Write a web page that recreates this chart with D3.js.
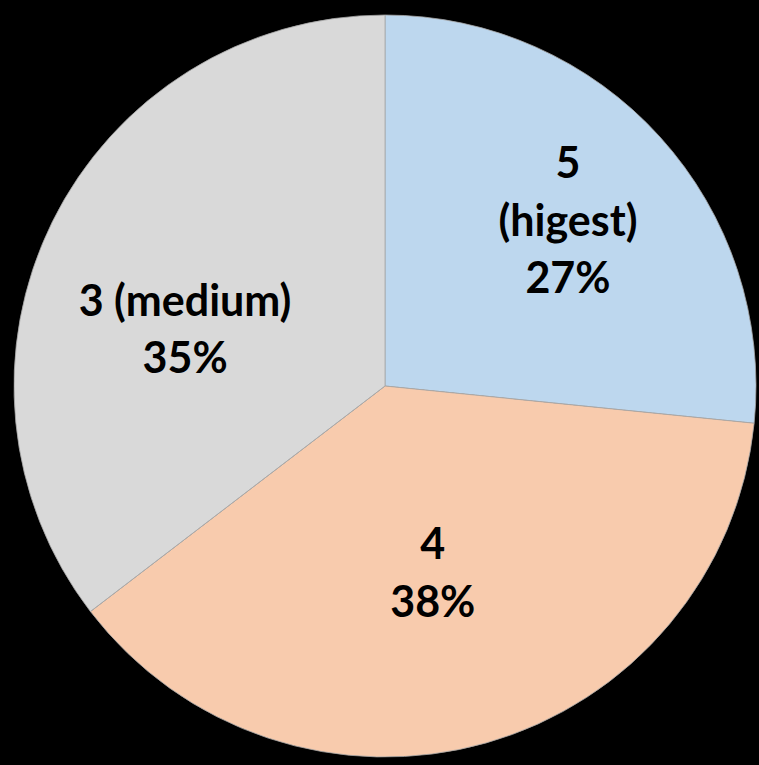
<!DOCTYPE html>
<html>
<head>
<meta charset="utf-8">
<script src="https://cdn.jsdelivr.net/npm/d3@7"></script>
<style>
  body { margin: 0; background: #000; }
  .slice-label { font-family: Lato, "Open Sans", sans-serif; font-weight: bold; font-size: 43px; fill: #000; }
</style>
</head>
<body>
<div id="chart"></div>
<script>
// pie data
const categories = ["5 (higest)", "4", "3 (medium)"];
const labelLines = [["5", "(higest)"], ["4"], ["3 (medium)"]];
const shares = [26.6, 38.0, 35.4];
const colors = ["#BDD7EE", "#F8CBAD", "#D9D9D9"];

const width = 759, height = 765;
const cx = 385, cy = 386, radius = 371;

// where excel put each label: fraction of radius + small angle nudge (deg)
const labelPlace = [[0.665, 0], [0.52, 1.5], [0.56, -10.5]];

const svg = d3.select("#chart").append("svg")
    .attr("width", width)
    .attr("height", height);

const g = svg.append("g")
    .attr("transform", `translate(${cx},${cy})`);

const data = categories.map((c, i) => ({name: c, value: shares[i], lines: labelLines[i], color: colors[i], place: labelPlace[i]}));

const pie = d3.pie()
    .value(d => d.value)
    .sort(null);

const arc = d3.arc()
    .innerRadius(0)
    .outerRadius(radius);

const arcs = pie(data);

g.selectAll(".slice")
    .data(arcs)
    .enter().append("path")
    .attr("class", "slice")
    .attr("d", arc)
    .attr("fill", d => d.data.color)
    .attr("stroke", "#a6a6a6")
    .attr("stroke-width", 0.8);

const lineH = 57.5;

arcs.forEach(d => {
    const mid = (d.startAngle + d.endAngle) / 2 + d.data.place[1] * Math.PI / 180;
    const r = radius * d.data.place[0];
    const lx = r * Math.sin(mid), ly = -r * Math.cos(mid);
    const lines = d.data.lines.concat([Math.round(d.data.value) + "%"]);
    const t = g.append("text")
        .attr("class", "slice-label")
        .attr("text-anchor", "middle")
        .attr("x", lx)
        .attr("y", ly - (lines.length - 1) * lineH / 2);
    lines.forEach((l, i) => {
        t.append("tspan")
            .attr("x", lx)
            .attr("dy", i === 0 ? "0.35em" : lineH)
            .text(l);
    });
});
</script>
</body>
</html>
